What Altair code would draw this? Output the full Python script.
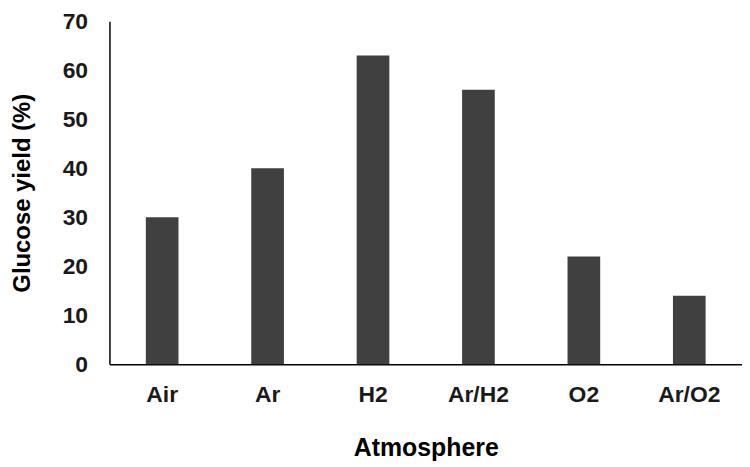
import altair as alt
import pandas as pd

categories = ["Air", "Ar", "H2", "Ar/H2", "O2", "Ar/O2"]
values = [30, 40, 63, 56, 22, 14]

df = pd.DataFrame({"Atmosphere": categories, "Yield": values})

font = "Liberation Sans"

chart = alt.Chart(df).mark_bar(color="#404040").encode(
    x=alt.X("Atmosphere:N", sort=categories,
            scale=alt.Scale(paddingInner=0.69, paddingOuter=0.345),
            axis=alt.Axis(title="Atmosphere", labelAngle=0, ticks=False,
                          labelPadding=19, titlePadding=30,
                          labelFont=font, labelFontSize=23, labelFontWeight="bold",
                          labelColor="#1a1a1a",
                          titleFont=font, titleFontSize=25, titleFontWeight="bold",
                          titleColor="#000000",
                          domainColor="#000000", domainWidth=1.5, grid=False)),
    y=alt.Y("Yield:Q",
            scale=alt.Scale(domain=[0, 70]),
            axis=alt.Axis(title="Glucose yield (%)", values=list(range(0, 71, 10)),
                          ticks=False, labelPadding=22, titlePadding=28,
                          labelFont=font, labelFontSize=23, labelFontWeight="bold",
                          labelColor="#1a1a1a",
                          titleFont=font, titleFontSize=24, titleFontWeight="bold",
                          titleColor="#000000",
                          domainColor="#000000", domainWidth=1.5, grid=False)),
).properties(
    width=636, height=345,
    autosize=alt.AutoSizeParams(type="none"),
    padding={"left": 102, "top": 12, "right": 0, "bottom": 100},
).configure_view(stroke=None)

chart.save("out.html", embed_options={"renderer": "svg", "actions": False})
